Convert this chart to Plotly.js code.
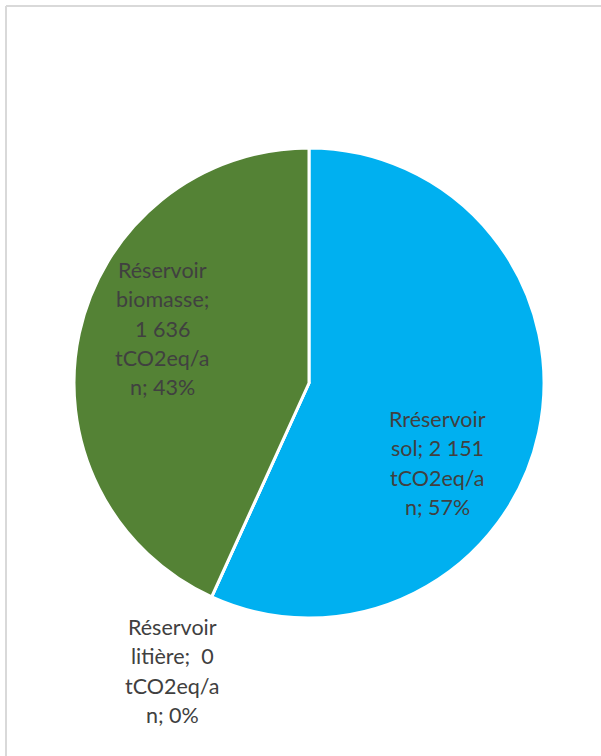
<!DOCTYPE html>
<html>
<head>
<meta charset="utf-8">
<script src="https://cdn.plot.ly/plotly-3.0.1.min.js"></script>
<style>html,body{margin:0;padding:0;background:#fff;}#chart{width:601px;height:756px;}</style>
</head>
<body>
<div id="chart"></div>
<script>
// Data
const categories = ["Rréservoir sol", "Réservoir litière", "Réservoir biomasse"];
const values = [2151, 0, 1636];
const unit = "tCO2eq/an";
const colors = ["#00B0F0", "#A5A5A5", "#548235"];

const total = values.reduce((a, b) => a + b, 0);
const fmt = v => String(v).replace(/\B(?=(\d{3})+(?!\d))/g, " ");
const pct = v => Math.round(100 * v / total) + "%";

// Label lines (Excel-style wrapping of "name; value unit; pct")
function labelLines(i) {
  const name = categories[i].split(" ");
  const v = fmt(values[i]);
  const u1 = unit.slice(0, 8), u2 = unit.slice(8);
  if (i === 0) return [name[0], name[1] + "; " + v, u1, u2 + "; " + pct(values[i])];
  if (i === 1) return [name[0], name[1] + ";  " + v, u1, u2 + "; " + pct(values[i])];
  return [name[0], name[1] + ";", v, u1, u2 + "; " + pct(values[i])];
}

const W = 601, H = 756;
// label anchor positions in pixels (center x, first line y), line spacing
const labelPos = [[437, 419], [172, 627], [162, 270]];
const lineGap = 29.3;

const annotations = [];
categories.forEach((c, i) => {
  labelLines(i).forEach((t, k) => {
    annotations.push({
      text: t, showarrow: false, xref: "paper", yref: "paper",
      x: labelPos[i][0] / W, y: 1 - (labelPos[i][1] + k * lineGap) / H,
      xanchor: "center", yanchor: "middle",
      font: {family: "Lato, 'Open Sans', sans-serif", size: 21.5, color: "#404040"}
    });
  });
});

const trace = {
  type: "pie",
  labels: categories,
  values: values,
  sort: false,
  direction: "clockwise",
  rotation: 0,
  marker: {colors: colors, line: {color: "#ffffff", width: 3}},
  textinfo: "none",
  hoverinfo: "none",
  showlegend: false,
  domain: {x: [74 / W, 544 / W], y: [1 - 618 / H, 1 - 148 / H]}
};

const layout = {
  width: W, height: H,
  margin: {l: 0, r: 0, t: 0, b: 0},
  paper_bgcolor: "#ffffff",
  showlegend: false,
  annotations: annotations,
  shapes: [
    {type: "line", xref: "paper", yref: "paper", x0: 6 / W, x1: 6 / W, y0: 0, y1: 1 - 6 / H, line: {color: "#d9d9d9", width: 2}},
    {type: "line", xref: "paper", yref: "paper", x0: 6 / W, x1: 1, y0: 1 - 6 / H, y1: 1 - 6 / H, line: {color: "#d9d9d9", width: 2}}
  ]
};

Plotly.newPlot("chart", [trace], layout, {displayModeBar: false, staticPlot: true});
</script>
</body>
</html>
